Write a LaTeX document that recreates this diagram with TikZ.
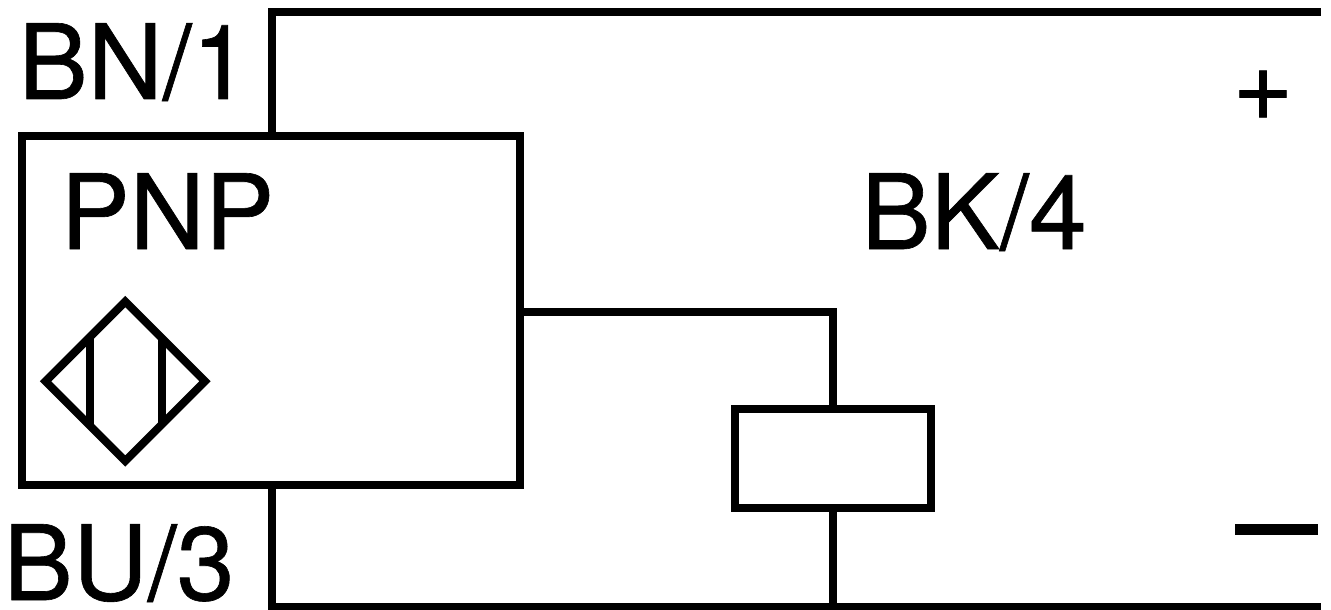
\documentclass[tikz,border=0pt]{standalone}
\usepackage{fontspec}
\setmainfont[FakeBold=0.6]{TeX Gyre Heros}
\begin{document}
\begin{tikzpicture}[x=1pt,y=-1pt,
  wire/.style={draw=black,line width=8pt,line cap=butt,line join=miter},
  boxed/.style={wire,inner sep=0pt,outer sep=0pt,anchor=north west},
  lab/.style={inner sep=0pt,outer sep=0pt,anchor=base,font=\fontsize{104}{104}\selectfont}]
\useasboundingbox (0,0) rectangle (1331,610);
\fill[white] (0,0) rectangle (1331,610);
\begin{scope}
\clip (0,0) rectangle (1331,610);
\node[boxed,minimum width=498pt,minimum height=348.6pt] (box) at (22,136.4) {};
\node[boxed,minimum width=195.7pt,minimum height=98.2pt] (load) at (735,409.3) {};
\coordinate (tr) at (1321,12);
\coordinate (br) at (1321,607.3);
\coordinate (tj) at (272,136.4);
\coordinate (bj) at (272,485);
\coordinate (bot) at (833,607.3);
\draw[wire] (tj) -- (tj |- tr) -- (tr);
\draw[wire] (bj) -- (bj |- br) -- (br);
\draw[wire] (box.east |- 0,312) -- (833,312) -- (833,409.3);
\draw[wire] (833,507.5) -- (bot);
\draw[wire] (125.3,301.6) -- (205,381.3) -- (125.3,461) -- (45.6,381.3) -- cycle;
\draw[wire] (89.8,337) -- (89.8,425.5);
\draw[wire] (161.7,337) -- (161.7,425.5);
\end{scope}
\node[lab] (bn) at (134,99) {BN/1};
\node[lab] (pnp) at (167.3,249) {PNP};
\node[lab] (bk) at (974,249) {BK/4};
\node[lab] (bu) at (119,600) {BU/3};
\node[lab] (plus) at (1263,120) {+};
\fill (1235,524) rectangle (1318,535);
\end{tikzpicture}
\end{document}
